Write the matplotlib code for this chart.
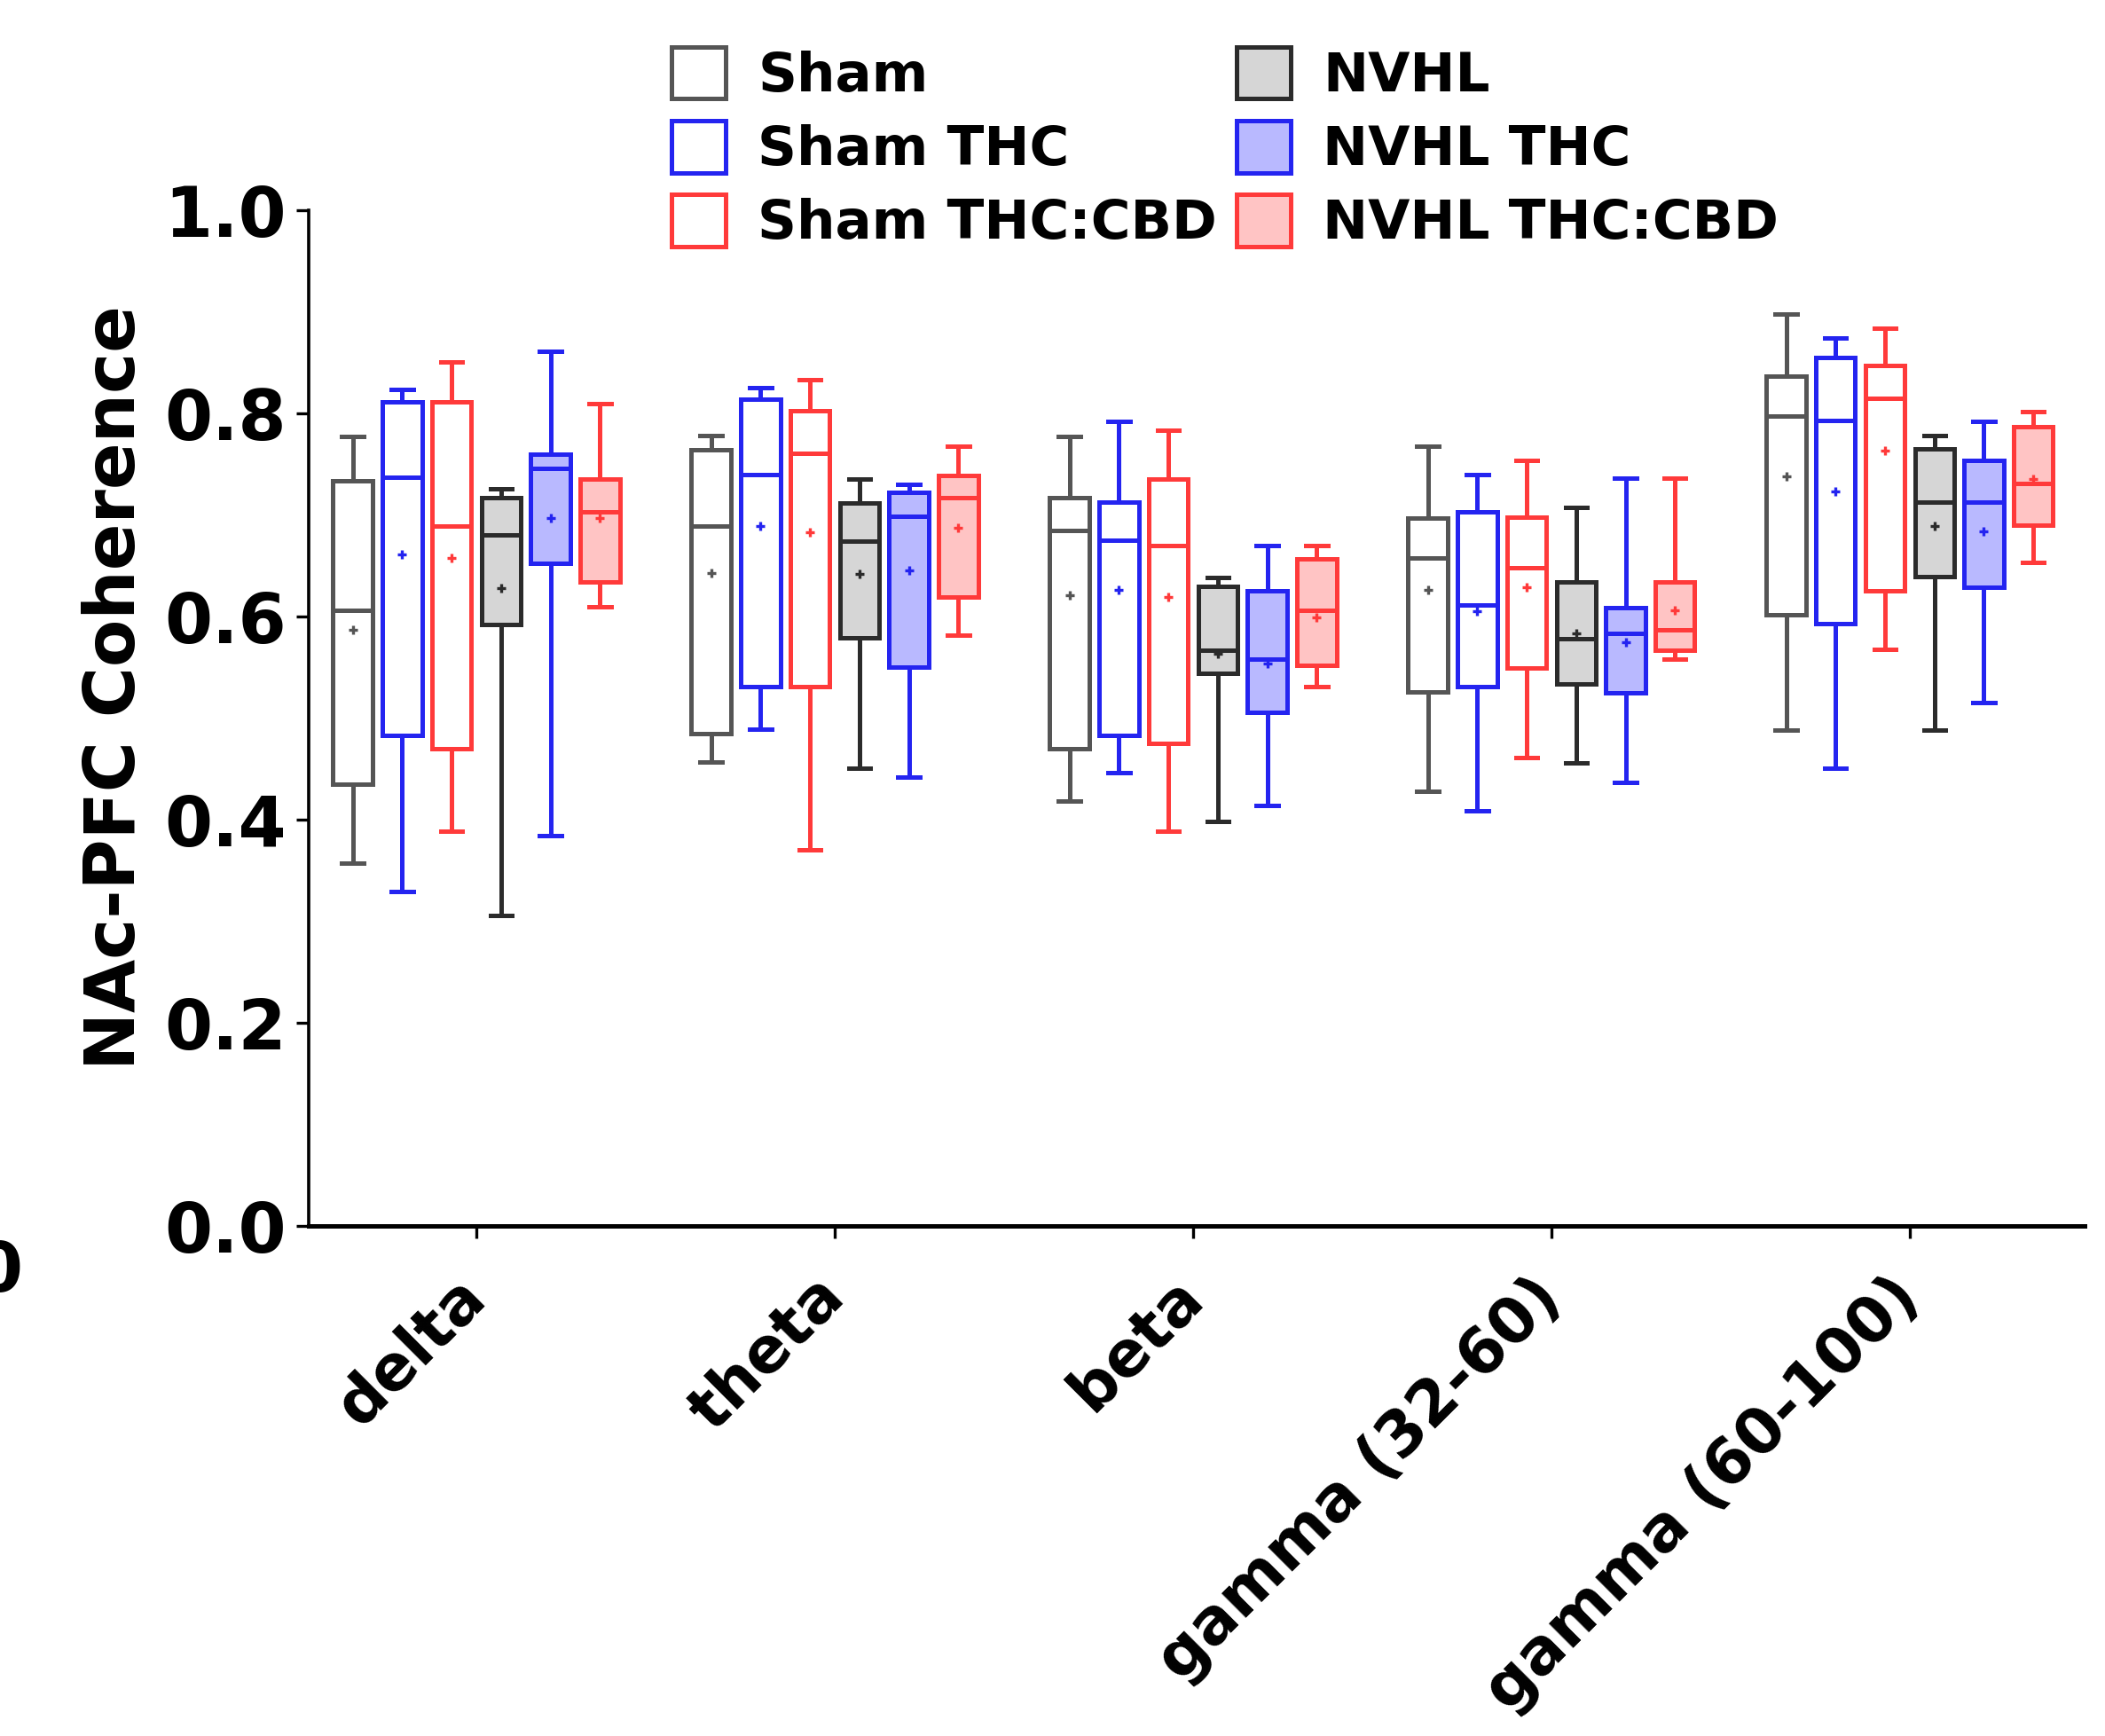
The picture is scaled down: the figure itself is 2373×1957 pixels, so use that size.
import numpy as np
import matplotlib
matplotlib.use("Agg")
import matplotlib.pyplot as plt
from matplotlib.patches import Patch

bands = ["delta", "theta", "beta", "gamma (32-60)", "gamma (60-100)"]
groups = ["Sham", "Sham THC", "Sham THC:CBD", "NVHL", "NVHL THC", "NVHL THC:CBD"]

# one row per group, one column per band
whishi = [
    [0.777, 0.778, 0.777, 0.768, 0.898],
    [0.824, 0.825, 0.792, 0.740, 0.874],
    [0.851, 0.833, 0.783, 0.754, 0.884],
    [0.726, 0.735, 0.638, 0.707, 0.778],
    [0.861, 0.730, 0.670, 0.736, 0.792],
    [0.810, 0.768, 0.670, 0.736, 0.802],
]
q3 = [
    [0.734, 0.764, 0.717, 0.697, 0.837],
    [0.811, 0.814, 0.713, 0.703, 0.855],
    [0.811, 0.803, 0.735, 0.698, 0.847],
    [0.717, 0.712, 0.630, 0.634, 0.765],
    [0.760, 0.722, 0.625, 0.609, 0.754],
    [0.735, 0.739, 0.657, 0.634, 0.787],
]
med = [
    [0.606, 0.689, 0.685, 0.658, 0.797],
    [0.737, 0.740, 0.675, 0.611, 0.793],
    [0.689, 0.761, 0.670, 0.648, 0.815],
    [0.680, 0.674, 0.567, 0.578, 0.713],
    [0.746, 0.699, 0.558, 0.583, 0.713],
    [0.703, 0.717, 0.606, 0.587, 0.731],
]
means = [
    [0.587, 0.643, 0.621, 0.626, 0.738],
    [0.661, 0.689, 0.626, 0.605, 0.723],
    [0.658, 0.683, 0.619, 0.629, 0.763],
    [0.628, 0.642, 0.563, 0.583, 0.689],
    [0.697, 0.645, 0.554, 0.575, 0.684],
    [0.697, 0.687, 0.599, 0.606, 0.735],
]
q1 = [
    [0.435, 0.485, 0.470, 0.526, 0.602],
    [0.483, 0.531, 0.483, 0.531, 0.593],
    [0.470, 0.531, 0.475, 0.549, 0.625],
    [0.592, 0.579, 0.544, 0.534, 0.639],
    [0.652, 0.550, 0.506, 0.525, 0.629],
    [0.634, 0.619, 0.552, 0.567, 0.690],
]
whislo = [
    [0.357, 0.457, 0.418, 0.428, 0.488],
    [0.329, 0.489, 0.446, 0.409, 0.451],
    [0.389, 0.370, 0.389, 0.461, 0.568],
    [0.306, 0.451, 0.398, 0.456, 0.488],
    [0.384, 0.442, 0.414, 0.437, 0.515],
    [0.610, 0.582, 0.531, 0.558, 0.653],
]

edges = ["#555555", "#2424f0", "#ff3a3a", "#2b2b2b", "#2424f0", "#ff3a3a"]
fills = ["white", "white", "white", "#d6d6d6", "#b9b9ff", "#ffc4c4"]

plt.rcParams["font.family"] = ["DejaVu Sans"]

fig = plt.figure(figsize=(11.865, 9.785), dpi=200)
ax = fig.add_axes([348 / 2373, 1 - 1382 / 1957, 2002 / 2373, 1145 / 1957])

step = 0.138
width = 0.11
x = np.arange(len(bands))
for g in range(len(groups)):
    stats = []
    for b in range(len(bands)):
        stats.append({
            "whislo": whislo[g][b], "q1": q1[g][b], "med": med[g][b],
            "q3": q3[g][b], "whishi": whishi[g][b], "mean": means[g][b],
            "fliers": [],
        })
    c = edges[g]
    lw = 1.8
    ax.bxp(stats, positions=x + (g - 2.5) * step, widths=width,
           capwidths=width * 0.55, patch_artist=True, showmeans=True,
           boxprops=dict(facecolor=fills[g], edgecolor=c, linewidth=lw),
           medianprops=dict(color=c, linewidth=lw),
           whiskerprops=dict(color=c, linewidth=lw),
           capprops=dict(color=c, linewidth=lw),
           meanprops=dict(marker="+", markersize=3.5, markeredgecolor=c,
                          markeredgewidth=1.2))

ax.set_xlim(-0.468, 4.488)
ax.set_ylim(0, 1.0)
ax.set_yticks([0, 0.2, 0.4, 0.6, 0.8, 1.0])
ax.set_yticklabels(["0.0", "0.2", "0.4", "0.6", "0.8", "1.0"])
ax.set_xticks(x)
ax.set_xticklabels(bands, rotation=45, ha="right", va="center",
                   rotation_mode="anchor")
for lab in ax.get_xticklabels():
    lab.set_fontsize(25.5)
    lab.set_fontweight("bold")
for lab in ax.get_yticklabels():
    lab.set_fontsize(28)
    lab.set_fontweight("bold")
ax.tick_params(axis="x", length=5, width=1.2, pad=20)
ax.tick_params(axis="y", length=5, width=1.2, pad=4)
ax.spines["top"].set_visible(False)
ax.spines["right"].set_visible(False)
ax.spines["left"].set_linewidth(1.3)
ax.spines["bottom"].set_linewidth(1.8)
ax.set_ylabel("NAc-PFC Coherence", fontsize=28, fontweight="bold")
ax.yaxis.set_label_coords(-0.09, 0.53)

handles = [Patch(facecolor=fills[g], edgecolor=edges[g], linewidth=1.8)
           for g in range(len(groups))]
fig.legend(handles, groups, loc="upper left", ncol=2,
           bbox_to_anchor=(726 / 2373, 1 - 22 / 1957), frameon=False,
           prop=dict(size=22, weight="bold"), handlelength=1.0,
           handleheight=1.1, labelspacing=0.33, columnspacing=0.35,
           handletextpad=0.6, borderpad=0)

fig.text(-0.012, 0.256, "0", fontsize=28, fontweight="bold")

fig.savefig("out.png", dpi=200)
